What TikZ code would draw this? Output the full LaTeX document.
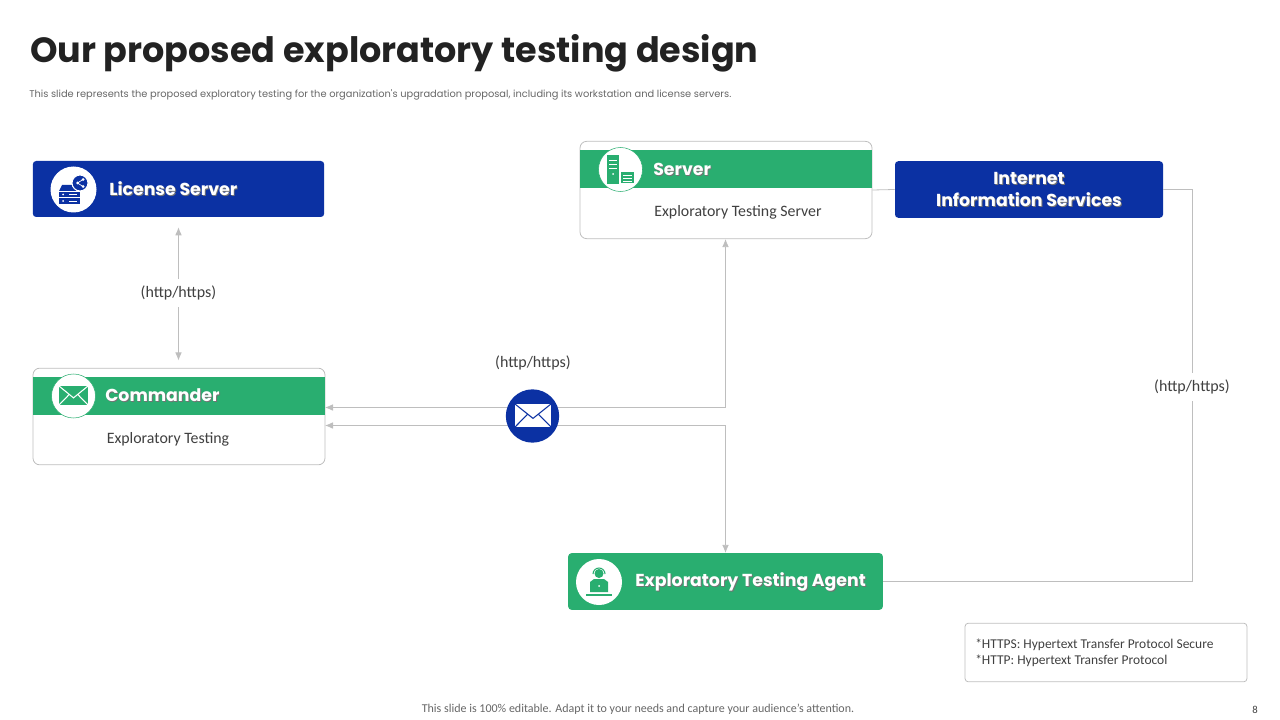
\documentclass[tikz,border=0pt]{standalone}
\usepackage{fontspec}
\setmainfont{Carlito}
\newfontfamily\headfont{Poppins}
\usetikzlibrary{arrows.meta}
\definecolor{bandgreen}{RGB}{41,174,112}
\definecolor{deepblue}{RGB}{11,49,163}
\definecolor{linegray}{RGB}{190,190,190}
\definecolor{inkgray}{RGB}{64,64,64}
\definecolor{titleink}{RGB}{34,34,34}
\newcommand{\shadowed}[1]{\leavevmode\rlap{\raisebox{-0.7pt}{\kern0.7pt\textcolor{black!55}{#1}}}#1}
% envelope: centre, half width, half height, body colour, crease colour
\newcommand{\envelope}[5]{
  \begin{scope}[shift={(#1)}]
    \fill[#4] (-#2,-#3) rectangle (#2,#3);
    \draw[#5, line width=0.8pt] (-#2,-#3) -- (0,0.25*#3) -- (#2,-#3);
    \draw[#5, line width=0.8pt] (-#2,#3) -- (-0.3*#2,-0.1*#3);
    \draw[#5, line width=0.8pt] (#2,#3) -- (0.3*#2,-0.1*#3);
  \end{scope}
}
\begin{document}
\begin{tikzpicture}[x=0.75pt, y=-0.75pt,
    bluebox/.style={fill=deepblue, rounded corners=2.5pt, inner sep=0pt},
    greenbox/.style={fill=bandgreen, rounded corners=2.5pt, inner sep=0pt},
    outlinebox/.style={draw=linegray, fill=white, rounded corners=5pt, line width=0.6pt, inner sep=0pt},
    band/.style={fill=bandgreen, inner sep=0pt, minimum width=219pt, minimum height=28.5pt},
    iconcircle/.style={circle, fill=white, inner sep=0pt, minimum size=33pt},
    headtext/.style={font=\headfont\bfseries\fontsize{13}{17}\selectfont, text=white, inner sep=0pt, anchor=west},
    bodytext/.style={font=\fontsize{11.9}{14}\selectfont, text=inkgray, inner sep=0pt},
    protolabel/.style={font=\fontsize{12}{14}\selectfont, text=inkgray, fill=white, inner xsep=2pt, inner ysep=0pt, minimum height=21pt},
    link/.style={draw=linegray, line width=0.6pt},
    headed/.style={{Latex[length=6pt,width=5pt]}-},
    bothheaded/.style={{Latex[length=6pt,width=5pt]}-{Latex[length=6pt,width=5pt]}}]
  \useasboundingbox (0,0) rectangle (1280,720);

  % heading
  \node[anchor=west, inner sep=0pt, text=titleink, font=\headfont\bfseries\fontsize{26.25}{30}\selectfont] (title) at (30,53) {Our proposed exploratory testing design};
  \node[anchor=west, inner sep=0pt, text=black!60, font=\headfont\fontsize{7.38}{9}\selectfont] (subtitle) at (29,94.5) {This slide represents the proposed exploratory testing for the organization's upgradation proposal, including its workstation and license servers.};

  % boxes
  \node[bluebox, minimum width=218.5pt, minimum height=42pt] (license) at (178.5,189) {};
  \node[outlinebox, minimum width=219pt, minimum height=72.5pt] (commander) at (179,416.5) {};
  \node[band] (commanderband) at (179,396) {};
  \node[outlinebox, minimum width=219pt, minimum height=73pt] (server) at (726,190) {};
  \node[band] (serverband) at (726,169) {};
  \node[bluebox, minimum width=201pt, minimum height=42.5pt] (iis) at (1029,189.5) {};
  \node[greenbox, minimum width=236pt, minimum height=42.5pt] (agent) at (725.5,581.5) {};
  \node[draw=linegray, rounded corners=2.5pt, line width=0.6pt, inner sep=0pt, minimum width=211.5pt, minimum height=44pt] (legend) at (1106,652.5) {};

  % labels on the connectors
  \node[protolabel] (httplicense) at (178.5,293) {(http/https)};
  \node[protolabel] (httpmail) at (533,363) {(http/https)};
  \node[protolabel] (httpiis) at (1192,387) {(http/https)};
  \coordinate (commanderup) at (325,407.5);
  \coordinate (commanderdown) at (325,425.5);

  % connectors
  \draw[link, headed, shorten <=7.5pt] (license) -- (httplicense);
  \draw[link, headed, shorten <=5.5pt] (httplicense |- commander.north) -- (httplicense);
  \draw[link, bothheaded] (agent.north |- server.south) |- (commanderup);
  \draw[link, bothheaded] (agent.north) |- (commanderdown);
  \draw[link] (server.east) -- (iis.west);
  \draw[link] (iis.east) -| (httpiis);
  \draw[link] (httpiis) |- (agent.east);
  \node[circle, fill=deepblue, inner sep=0pt, minimum size=40pt] (mail) at (532.5,416) {};
  \envelope{533,415.5}{18}{11.5}{white}{deepblue}

  % box texts
  \node[headtext] (licensetext) at (109,189) {\shadowed{License Server}};
  \node[headtext] (commandertext) at (105,396) {\shadowed{Commander}};
  \node[bodytext] (commanderbody) at (168,439) {Exploratory Testing};
  \node[headtext] (servertext) at (653,170) {\shadowed{Server}};
  \node[bodytext] (serverbody) at (738,212) {Exploratory Testing Server};
  \node[headtext, anchor=center, align=center] (iistext) at (1029,190) {\shadowed{Internet}\hspace{4.5pt}\\\shadowed{Information Services}};
  \node[headtext] (agenttext) at (635,582.5) {\shadowed{Exploratory Testing Agent}};
  \node[anchor=west, inner sep=0pt, align=left, text=inkgray, font=\fontsize{10.1}{12}\selectfont] (legendtext) at (975,653) {*HTTPS: Hypertext Transfer Protocol Secure\\*HTTP: Hypertext Transfer Protocol};

  % license icon
  \node[iconcircle, minimum size=34.5pt] (licenseicon) at (73.5,189.5) {};
  \fill[deepblue] (59,191) -- (62,185) -- (77,185) -- (80,191) -- cycle;
  \fill[deepblue] (59,192) rectangle (80,197);
  \fill[deepblue] (59,198) rectangle (80,204);
  \draw[white, line width=0.5pt] (69,194.5) -- (77,194.5) (69,201) -- (77,201);
  \fill[white] (63,194.5) circle (1) (63,201) circle (1);
  \draw[white, line width=0.8pt, fill=deepblue] (80,183) circle (8);
  \draw[white, line width=0.5pt] (83,179.5) -- (77.5,183) -- (83,186.5);
  \fill[white] (83,179.5) circle (1.5) (77.5,183) circle (1.5) (83,186.5) circle (1.5);

  % commander icon
  \node[iconcircle, draw=bandgreen, line width=0.4pt] (commandericon) at (73.5,396) {};
  \envelope{73.5,395.5}{14.5}{9.5}{bandgreen}{white}

  % server icon
  \node[iconcircle, draw=bandgreen, line width=0.4pt] (servericon) at (620.5,169.5) {};
  \fill[bandgreen] (607,155) rectangle (619,184);
  \fill[bandgreen] (621,172) rectangle (634,183);
  \foreach \y in {160,164,168}
    {
      \draw[white, line width=0.4pt] (609,\y) -- (617,\y);
    }
  \fill[white] (613,174) circle (1);
  \foreach \y in {175,178,181}
    {
      \draw[white, line width=0.4pt] (623,\y) -- (632,\y);
    }

  % agent icon
  \node[iconcircle, minimum size=34.5pt] (agenticon) at (599,582) {};
  \fill[bandgreen] (599,573.5) circle (4.5);
  \draw[bandgreen, line width=0.8pt] (593,574) arc (180:360:6);
  \fill[bandgreen] (590,592) -- (590,582) -- (594,579) -- (604,579) -- (608,582) -- (608,592) -- cycle;
  \fill[white] (599,586) circle (1);
  \fill[bandgreen] (586,594) rectangle (612,596);

  % footer
  \node[inner sep=0pt, text=black!60, font=\fontsize{9}{10}\selectfont] (footer) at (638,709) {This slide is 100\% editable. Adapt it to your needs and capture your audience's attention.};
  \node[inner sep=0pt, text=inkgray, font=\fontsize{8}{9}\selectfont] (pagenumber) at (1255,710) {8};
\end{tikzpicture}
\end{document}
